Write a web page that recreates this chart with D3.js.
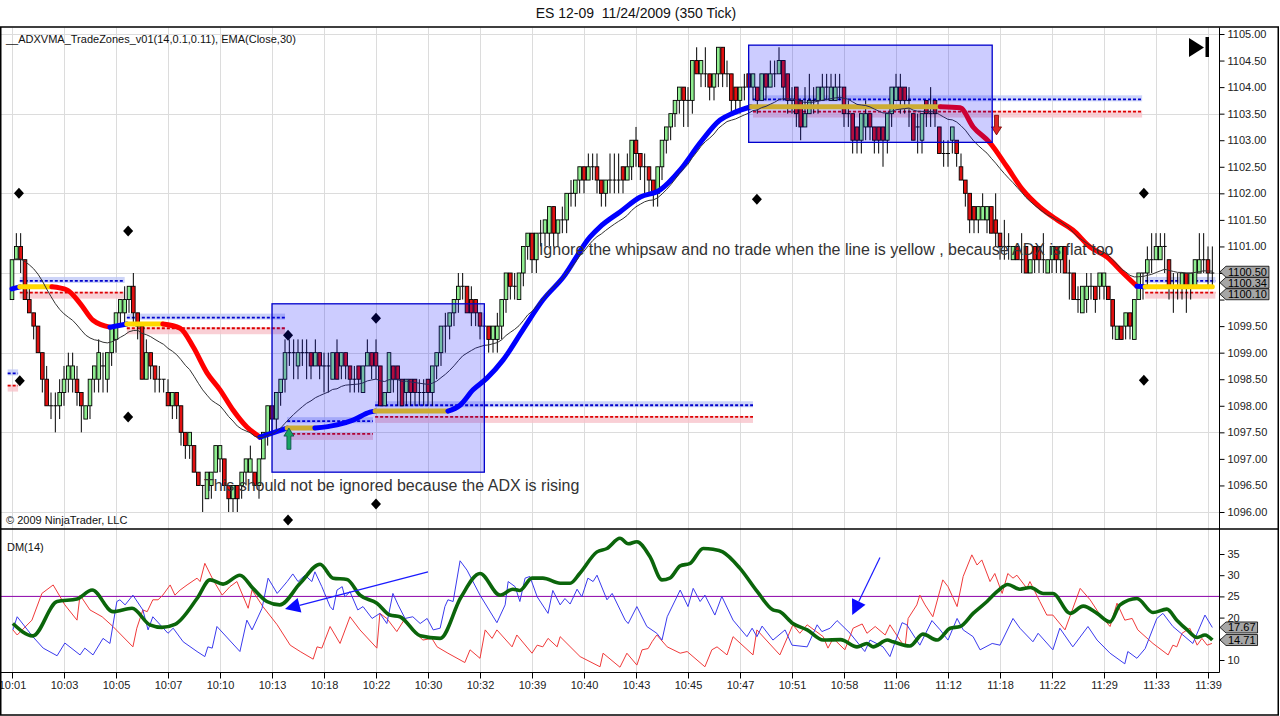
<!DOCTYPE html>
<html>
<head>
<meta charset="utf-8">
<title>ES 12-09 11/24/2009 (350 Tick)</title>
<script src="https://cdn.jsdelivr.net/npm/d3@7/dist/d3.min.js"></script>
<style>
  body { margin: 0; background: #fff; }
  svg { display: block; font-family: "Liberation Sans", Arial, sans-serif; }
  .tick text { font-size: 11px; fill: #222; }
  .tick line { stroke: #000; }
</style>
</head>
<body>
<svg id="chart" width="1280" height="716"></svg>
<script>
// 350 tick bars, prices stored in ticks above 1096.00 (one tick = 0.25)
const BASE = 1096
const TICK = 0.25

const opens = [
  16,19,20,19,16,15,14,12,10,8,8,8,
  9,10,10,10,9,7,8,10,10,11,10,12,
  13,15,15,16,17,15,14,10,12,11,10,10,
  9,8,9,8,6,5,5,3,2,1,2,3,
  4,4,2,1,2,2,3,3,3,2,4,6,
  8,7,9,10,12,12,11,12,12,12,11,12,
  11,11,10,12,11,12,11,10,11,9,11,12,
  12,11,8,9,11,11,10,9,10,10,9,9,
  10,9,11,12,14,14,15,16,17,17,16,16,
  15,14,14,13,13,14,16,18,17,16,18,20,
  21,19,21,21,21,23,21,22,22,24,24,25,
  26,25,26,26,25,24,25,25,25,26,25,26,
  28,27,26,26,25,24,26,28,29,30,31,32,
  31,31,34,33,33,33,32,33,35,33,33,32,
  31,32,33,32,32,31,33,32,33,33,34,33,
  31,32,31,29,30,31,31,31,32,31,31,32,
  32,30,30,29,28,29,30,29,29,29,28,30,
  31,32,32,31,30,29,28,31,30,31,29,27,
  27,28,28,26,25,24,23,22,22,22,23,22,
  21,20,20,19,20,19,20,18,20,20,19,18,
  19,20,19,20,18,18,16,15,16,17,17,17,
  17,17,16,13,14,14,15,13,16,18,18,19,
  19,19,20,19,17,17,17,18,17,17,18,19,
  19,18
]
const closes = [
  19,20,19,16,15,14,12,10,8,8,8,9,
  10,11,11,9,8,8,10,11,12,11,12,14,
  15,16,16,17,15,14,10,12,11,10,10,10,
  8,9,8,6,5,6,3,2,2,3,3,5,
  5,2,1,2,1,3,4,4,2,4,6,8,
  7,9,10,12,12,12,12,12,12,11,12,11,
  11,11,12,10,12,11,10,10,10,11,12,11,
  11,8,9,12,10,10,8,10,9,9,9,9,
  9,11,12,14,14,15,16,17,17,15,15,15,
  14,14,13,14,14,16,18,17,17,18,20,21,
  19,21,21,22,23,21,22,22,24,24,25,26,
  25,26,26,25,24,25,25,25,25,25,26,28,
  27,26,26,25,24,26,28,29,30,31,32,31,
  31,34,33,34,33,32,33,35,33,33,31,31,
  32,32,32,33,31,33,32,33,33,34,32,31,
  31,30,29,30,31,31,32,32,32,32,32,32,
  30,30,28,28,30,30,29,28,28,28,30,32,
  32,31,31,31,28,29,30,30,30,30,27,27,
  27,29,27,25,24,22,22,23,23,23,21,21,
  20,20,20,20,19,19,18,19,19,19,19,19,
  20,19,20,18,18,16,16,17,17,17,16,18,
  18,16,14,14,13,15,14,16,18,18,19,19,
  20,20,20,17,17,17,18,17,18,19,19,19,
  18,18
]
const highs = [
  19,21,21,19,17,15,14,12,11,9,9,10,
  11,12,12,11,9,8,10,11,13,12,12,14,
  15,16,17,17,18,15,14,13,12,11,11,10,
  10,9,9,8,6,6,5,3,2,3,3,5,
  5,4,2,2,2,3,4,5,3,4,6,8,
  8,9,10,13,13,13,13,13,13,12,13,12,
  12,12,12,13,12,12,11,11,11,11,13,12,
  13,11,9,12,11,11,10,10,10,10,10,10,
  10,11,12,14,15,15,16,18,18,17,17,16,
  15,15,14,14,15,16,18,18,18,18,20,21,
  21,21,22,22,23,23,22,23,24,25,25,26,
  26,27,27,27,25,25,27,27,27,26,27,28,
  29,27,27,26,25,26,28,29,30,31,32,32,
  32,34,35,34,35,33,33,35,35,34,33,32,
  32,33,34,33,32,33,33,34,34,35,34,33,
  32,32,31,32,33,32,32,33,33,33,33,33,
  32,31,30,29,30,31,30,29,29,29,30,32,
  33,33,32,32,30,30,30,31,32,31,29,28,
  28,29,28,27,25,24,23,23,24,23,23,24,
  21,22,21,20,20,21,20,19,20,20,21,19,
  20,20,20,20,19,18,17,17,18,18,17,18,
  18,17,16,14,14,15,15,16,18,18,20,21,
  21,21,21,19,18,18,18,18,18,19,21,21,
  20,20
]
const lows = [
  16,19,18,16,15,13,12,9,8,7,6,7,
  8,9,9,8,6,7,7,9,9,9,9,11,
  12,14,14,15,14,13,10,10,10,9,9,9,
  8,7,7,5,4,4,3,2,0,1,1,3,
  3,2,0,0,0,1,2,3,2,1,4,5,
  6,6,8,9,11,10,10,11,10,10,11,10,
  9,9,10,10,10,10,9,9,9,9,11,10,
  10,8,8,9,9,8,8,8,8,8,8,8,
  8,8,10,11,12,13,14,15,16,15,14,14,
  13,13,12,12,12,13,15,16,16,16,17,19,
  18,18,20,20,20,20,20,21,21,23,23,24,
  24,25,25,24,23,23,24,24,24,24,25,25,
  26,25,24,24,23,23,25,27,28,29,30,29,
  29,30,33,32,32,31,31,32,32,32,30,30,
  30,31,31,31,30,31,31,32,32,33,31,30,
  30,29,28,29,30,30,30,31,31,31,31,31,
  29,29,27,27,27,28,28,27,27,26,27,29,
  31,30,30,29,28,27,27,29,29,29,27,26,
  26,27,26,25,23,21,21,21,22,21,21,20,
  19,19,19,19,19,18,18,18,18,18,18,18,
  18,18,18,18,16,16,15,15,15,16,15,16,
  16,16,13,13,13,13,13,13,16,16,17,18,
  19,19,18,16,15,16,16,15,16,17,18,18,
  17,17
]

const timeLabels = ['10:01','10:03','10:05','10:07','10:10','10:13','10:18','10:22','10:30','10:32','10:39','10:40',
  '10:43','10:45','10:47','10:51','10:58','11:06','11:12','11:18','11:22','11:29','11:33','11:39']
const priceTicks = d3.range(1096, 1105.001, 0.5)
const priceGrid = [1096, 1097.5, 1099, 1100.5, 1102, 1103.5, 1105]
const dmTicks = [10, 15, 20, 25, 30, 35]

// ADXVMA line: bar position, price, and trend state of the following segment
const vmaBars = [0,1.8,9.2,12.7,15.7,18.7,22.6,26.5,34.8,38.8,41.8,45,48,51,54.2,57.2,63.5,69.9,75,78.7,
  82.6,83.8,100.6,103.4,106.4,109.6,113.3,117.9,122.5,127.2,133.4,135.7,140.3,145,149.5,154.2,158.8,163.4,166.4,170.5,
  214.2,218.8,221.8,225.7,229.6,233.3,237.2,241.2,244.8,248.8,252.7,256.4,259.6,261.5,277]
const vmaPrices = [1100.20,1100.24,1100.24,1100.18,1099.93,1099.61,1099.48,1099.54,1099.54,1099.46,
  1099.11,1098.62,1098.30,1097.92,1097.60,1097.41,1097.58,1097.58,1097.64,1097.73,
  1097.88,1097.90,1097.90,1098.01,1098.30,1098.52,1098.86,1099.43,1099.99,1100.42,
  1101.18,1101.37,1101.65,1101.93,1102.06,1102.44,1102.95,1103.38,1103.51,1103.63,
  1103.63,1103.61,1103.25,1102.95,1102.50,1102.06,1101.74,1101.50,1101.31,1100.99,
  1100.80,1100.50,1100.25,1100.24,1100.24]
const vmaStates = 'UFDDDDUFDDDDDDDUFUUUUFUUUUUUUUUUUUUUUUUFDDDDDDDDDDDDUF'

// trade zones
const zoneStart = [-1, 1.8, 26.5, 63.5, 83.8, 171, 261.5]
const zoneEnd   = [1.4, 26, 63, 83.3, 171, 260.8, 277.7]
const zoneUpper = [1098.61, 1100.35, 1099.66, 1097.71, 1098.01, 1103.77, 1100.35]
const zoneLower = [1098.38, 1100.13, 1099.46, 1097.47, 1097.79, 1103.54, 1100.13]

// drawn rectangles
const boxBars   = [[60, 109], [170, 226.2]]
const boxPrices = [[1099.92, 1096.75], [1104.79, 1102.96]]

const diamondBars   = [1.6, 1.8, 26.8, 26.8, 63.7, 63.7, 84, 84, 171.9, 261.2, 261.2]
const diamondPrices = [1102.0, 1098.47, 1101.29, 1097.79, 1099.33, 1095.85, 1099.65, 1096.15, 1101.89, 1102.0, 1098.48]

const longSignal  = {bar: 63.9, tip: 1097.58, tail: 1097.18}
const shortSignal = {bar: 227.2, tip: 1103.10, tail: 1103.47}

const notes = [
  {bar: 121.6, price: 1100.83, text: 'Ignore the whipsaw and no trade when the line is yellow , because ADX is flat too'},
  {bar: 44.3, price: 1096.39, text: 'This should not be ignored because the ADX is rising'},
]

// DM(14) panel, [bar, value]
const adx = [[0.2,18.6],[4.8,15.7],[10.4,23.8],[15,24.4],[18.5,26.5],[23.3,21.4],[27.7,22.2],[31.8,18.3],[34.6,17.7],
  [37.6,18.4],[42.7,24.5],[45.7,28.9],[48.7,27.9],[52.6,30],[55.6,26.9],[58.8,23.8],[61.8,23],[66.5,28.1],[71.1,32.6],
  [74.1,29.3],[77.3,29],[80.3,25.3],[84.2,23.4],[87.2,20.6],[89.5,20.2],[94.2,15.7],[98.8,15.1],[103.6,24.8],[108,30.4],
  [112.6,25.3],[115.6,26.7],[117.2,26.4],[120,29.3],[122.5,29.3],[126.5,28.1],[128.8,28.1],[131,30.4],[135,35.5],
  [137.3,36.3],[140.3,38.7],[142.2,37.4],[144.2,37.9],[147.2,34.4],[150,28.9],[151.8,29.3],[154.2,32.2],[156.5,32.8],
  [159.5,36.3],[161.8,36.1],[164,35.5],[168,31.6],[172,26.1],[175.6,21.8],[177.2,21.4],[180.2,18.6],[183.5,17.1],
  [187.2,14.7],[191.2,14.8],[195,13.1],[197.3,13.9],[198.7,13.1],[202,14.7],[203.3,14.3],[207.2,13.3],[210.2,16.1],
  [213.5,14.7],[216.5,17.5],[218.8,17.9],[221.8,21],[225,23.8],[227.3,26.1],[229.8,27.8],[232.6,26.7],[235,27.1],
  [238,25.7],[240.2,25.7],[244.2,21],[247.2,22.7],[250.4,21],[253.4,19],[255.7,23],[259.6,24.5],[263.3,21.2],
  [266.5,22],[268.8,19.4],[271.2,17.1],[273.5,15.3],[275.3,15.9],[277,14.71]]
const plusDI = [[0.2,17.1],[1.2,20.2],[4.8,15.5],[7.2,12.8],[10.4,11],[12.2,14],[15.7,11.2],[16.8,12.8],[18.7,11.2],
  [21,15.1],[22.6,13.9],[24.2,23.8],[24.9,24.2],[26.1,23],[27.9,25.3],[30.2,21.8],[31.4,17.1],[32.5,20.2],[36,16.3],
  [37.2,17.5],[39.5,14.3],[42.7,12],[44.5,10.8],[45.2,13.1],[46.2,12.8],[47.3,17.9],[52.6,12],[54.2,19.4],[55.4,17.1],
  [57.7,22.2],[59.1,29.3],[61.2,25.7],[63.5,28.5],[64.8,30.3],[66,28.5],[67.6,30],[69.2,28.5],[69.9,30.8],[71.5,27.3],
  [73.4,22.6],[74.1,21.8],[75,26.5],[76.2,27.3],[76.8,24.9],[78,26.1],[79.8,21.8],[81,22.6],[83.1,19.8],[84.9,21],
  [86.5,18.6],[87.9,25.7],[89.1,23],[90.7,19.8],[92.5,20.2],[94.2,18.6],[95.8,19.8],[97.2,17.1],[98.8,17.5],[99.9,22.6],
  [100.6,24.2],[101.8,23.8],[103.4,33.4],[105,31.2],[108,25.3],[111.9,18.8],[113.8,23],[114.5,28.5],[116.1,27.3],
  [117.2,23.8],[118.4,29.3],[119.5,29.7],[121.2,24.9],[123.7,21],[124.8,26.4],[126.5,23],[127.6,24.5],[128.8,23.2],
  [130.4,26.7],[131.5,24.9],[132.9,29.3],[134.1,28.5],[135,30],[137.3,24.2],[138.5,25.7],[141.5,19.4],[142.2,18.6],
  [144.2,22.6],[146.5,17.9],[148.8,16.3],[150,14.7],[151.2,20.2],[154.2,26.5],[156,22.6],[157.2,26.9],[158.8,23.8],
  [159.9,25.3],[162.2,20.6],[163.8,25],[166.4,19.4],[169.6,15.5],[170.8,17.5],[171.9,15.5],[173.1,18],[175.6,14.7],
  [178.4,17.1],[180,13.5],[183.5,13.1],[185.8,18.3],[186.9,16.7],[188.8,17.5],[190.4,19.3],[193.4,16.3],[196.8,12],
  [198,14.7],[201,13.1],[202.6,10.8],[205.4,18.8],[206.5,18.3],[209.5,13.5],[212.3,19.3],[214.2,17.1],[216,14.7],
  [218.1,19.8],[219.5,17.1],[221.8,15.5],[223.4,12.4],[226.2,13.9],[228,13.5],[231,19.8],[232.6,17.5],[235.6,14.3],
  [236.8,16.3],[240.2,12.4],[241.8,17.5],[244.8,13.1],[248.3,17.9],[250.4,14.7],[253.4,11.6],[256.8,9.1],[257.5,12],
  [259.6,10.4],[261.5,12.7],[264.2,19.8],[265.6,21],[267.9,17.9],[270.2,15.9],[272.5,13.9],[275.3,20.6],[277,17.67]]
const minusDI = [[0.2,17.1],[1.2,15.9],[4.6,19.4],[6.9,25.7],[9.5,27.7],[12.2,23],[15,19.4],[15.7,25.3],[18,21.8],
  [20.8,20.2],[23.3,17.9],[27.9,13.1],[28.8,17.5],[30.2,21.8],[31.2,21.4],[32.5,24.2],[33.7,24.2],[34.8,25.3],[36.5,27.7],
  [37.6,25.3],[38.8,26.5],[40.4,27.7],[42.7,29.3],[43.4,28.5],[44.5,32.8],[46.4,28.9],[48.5,25.3],[50.3,27.3],[51.9,28.5],
  [54.5,22.2],[55.4,26.5],[57.9,22.6],[61.2,18.3],[64.2,13.5],[66.5,12],[69.5,10.2],[70.4,13.1],[71.5,12.8],[73.4,17.9],
  [75.7,13.9],[78,20.2],[80.3,17.1],[84.2,12.8],[84.9,21],[86.5,19.8],[88.8,16.7],[90.7,19.8],[92.5,17.1],[94.8,14.7],
  [96.9,15.1],[98.1,13.1],[100.6,11.6],[104.5,9.4],[105.7,12.4],[108,10.4],[109.2,17.1],[110.8,15.1],[111.9,17.1],
  [115.4,13.1],[116.5,15.9],[120,11.6],[121.2,13.5],[122.5,13.1],[123.7,15.1],[125.8,13.1],[126.5,15.5],[131.1,10.8],
  [135.7,8.4],[136.4,11.6],[140.3,8.3],[141.9,11.6],[144.2,8.8],[145.4,12.4],[146.8,12.7],[147.7,14.3],[148.8,15.9],
  [151.2,13.1],[154.2,11.6],[155.8,12],[159.9,8.4],[161.5,12.4],[162.7,13.1],[165,11.2],[166.4,15.5],[171,11.2],
  [171.9,17.1],[177.2,11.2],[180.2,18.3],[181.8,16.3],[183.5,18.3],[187.2,15.5],[188.3,12.8],[189.5,15.1],[192.2,12.4],
  [194.1,17.5],[196.2,18.5],[197.3,16.3],[199.2,17.9],[201.5,15.9],[202.6,18.3],[204.9,14.7],[206.1,13.1],[206.8,19.8],
  [208.8,23],[209.5,25.3],[210.7,23],[212.5,20.2],[214.8,28.9],[216,27.3],[218.1,22.6],[219.5,29.7],[221.5,34.8],
  [222.7,32.4],[223.8,33.6],[225.7,28.5],[226.8,30.4],[228.5,25.7],[229.8,30.4],[231,29.3],[231.9,30],[234.2,26.9],
  [234.9,28.5],[237.2,23.8],[238.8,20.6],[240.2,20.6],[243,17.1],[246.5,26.9],[248.8,24.2],[251.1,20.6],[253.4,17.9],
  [255,23.4],[256.8,19.4],[258.5,19.8],[259.8,17.1],[263.3,13.9],[266.8,11.2],[267.9,13.5],[268.8,13.1],[270,16.3],
  [271.8,17.5],[273.5,13.5],[274.6,15.1],[275.8,13.5],[276.9,13.9]]
const dmLevel = 25
const dmArrowFrom = [[96, 30.8], [200.3, 34.2]]
const dmArrowTo   = [[63, 22.0], [193.9, 20.6]]

const priceTags = [1100.34, 1100.50, 1100.10]
const dmTags = [17.67, 14.71]

// ---------------------------------------------------------------
const svg = d3.select('#chart')
const L = 1, R = 1219, PT = 27.5, PB = 529, DB = 672

const x = d3.scaleLinear().domain([0, 277]).range([12, 12 + 277 * 52 / 12])
const yP = d3.scaleLinear().domain([1096, 1105]).range([512, 34])
const yD = d3.scaleLinear().domain([10, 35]).range([660, 554])
const px = t => BASE + t * TICK
const crisp = v => Math.round(v) + 0.5

svg.append('rect').attr('width', 1280).attr('height', 716).attr('fill', '#fff')

svg.append('text')
  .attr('x', 636).attr('y', 18).attr('text-anchor', 'middle')
  .style('font-size', '14px').style('white-space', 'pre').attr('fill', '#111')
  .text('ES 12-09  11/24/2009 (350 Tick)')

const defs = svg.append('defs')
defs.append('clipPath').attr('id', 'clipP').append('rect')
  .attr('x', L).attr('y', PT).attr('width', R - L).attr('height', PB - PT)
defs.append('clipPath').attr('id', 'clipD').append('rect')
  .attr('x', L).attr('y', PB).attr('width', R - L).attr('height', DB - PB)

// grid
const grid = svg.append('g').attr('stroke', '#dcdcdc').attr('stroke-width', 1)
d3.range(0, 277, 12).forEach(i => {
  grid.append('line').attr('x1', crisp(x(i))).attr('x2', crisp(x(i))).attr('y1', PT).attr('y2', PB)
  grid.append('line').attr('x1', crisp(x(i))).attr('x2', crisp(x(i))).attr('y1', PB).attr('y2', DB)
})
priceGrid.forEach(p => {
  grid.append('line').attr('x1', L).attr('x2', R).attr('y1', crisp(yP(p))).attr('y2', crisp(yP(p)))
})

// ---------------- price panel
const pg = svg.append('g').attr('clip-path', 'url(#clipP)')

// trade zones
const zg = pg.append('g')
zoneStart.forEach((s, k) => {
  const x0 = x(s), x1 = x(zoneEnd[k])
  const yu = yP(zoneUpper[k]), yl = yP(zoneLower[k])
  zg.append('rect').attr('x', x0).attr('width', x1 - x0).attr('y', yu - 4).attr('height', 6)
    .attr('fill', '#bcc6f6').attr('opacity', 0.75)
  zg.append('rect').attr('x', x0).attr('width', x1 - x0).attr('y', yl - 1).attr('height', 7)
    .attr('fill', '#f7c3cb').attr('opacity', 0.8)
  zg.append('line').attr('x1', x0).attr('x2', x1).attr('y1', yu).attr('y2', yu)
    .attr('stroke', '#0000cc').attr('stroke-width', 1.8).attr('stroke-dasharray', '3,2')
  zg.append('line').attr('x1', x0).attr('x2', x1).attr('y1', yl).attr('y2', yl)
    .attr('stroke', '#dd0000').attr('stroke-width', 1.8).attr('stroke-dasharray', '3,2')
})

// candles
const bars = opens.map((o, i) => ({i, o: px(o), c: px(closes[i]), h: px(highs[i]), l: px(lows[i])}))
const cg = pg.append('g')
cg.selectAll('line.wick').data(bars).join('line').attr('class', 'wick')
  .attr('x1', d => x(d.i)).attr('x2', d => x(d.i))
  .attr('y1', d => yP(d.h)).attr('y2', d => yP(d.l))
  .attr('stroke', '#000').attr('stroke-width', 1)
cg.selectAll('rect.body').data(bars.filter(d => d.o !== d.c)).join('rect').attr('class', 'body')
  .attr('x', d => x(d.i) - 1.8).attr('width', 3.6)
  .attr('y', d => yP(Math.max(d.o, d.c)))
  .attr('height', d => Math.abs(yP(d.o) - yP(d.c)))
  .attr('fill', d => d.c > d.o ? '#90ee90' : '#e01010')
  .attr('stroke', '#000').attr('stroke-width', 0.9)
cg.selectAll('line.doji').data(bars.filter(d => d.o === d.c)).join('line').attr('class', 'doji')
  .attr('x1', d => x(d.i) - 2).attr('x2', d => x(d.i) + 2)
  .attr('y1', d => yP(d.o)).attr('y2', d => yP(d.o))
  .attr('stroke', '#000').attr('stroke-width', 1)

// ADXVMA, drawn in runs of one colour
const stateColor = {U: '#0000ff', D: '#ff0000', F: '#ffd800'}
const vmaLine = d3.line().x(d => x(d[0])).y(d => yP(d[1])).curve(d3.curveMonotoneX)
let runStart = 0
for (let k = 1; k <= vmaStates.length; k++) {
  if (k === vmaStates.length || vmaStates[k] !== vmaStates[runStart]) {
    const pts = d3.range(runStart, k + 1).map(j => [vmaBars[j], vmaPrices[j]])
    pg.append('path').datum(pts).attr('d', vmaLine)
      .attr('fill', 'none').attr('stroke', stateColor[vmaStates[runStart]])
      .attr('stroke-width', 5).attr('stroke-linecap', 'round')
    runStart = k
  }
}

// EMA(Close,30)
const ema = []
closes.forEach((t, i) => ema.push(i ? ema[i - 1] + (px(t) - ema[i - 1]) * 2 / 31 : px(t)))
pg.append('path').datum(ema)
  .attr('d', d3.line().x((d, i) => x(i)).y(d => yP(d)))
  .attr('fill', 'none').attr('stroke', '#333').attr('stroke-width', 1)

// swing diamonds
pg.selectAll('path.diamond').data(diamondBars).join('path').attr('class', 'diamond')
  .attr('d', (b, k) => {
    const cx = x(b), cy = yP(diamondPrices[k])
    return `M${cx},${cy - 5.5} L${cx + 5},${cy} L${cx},${cy + 5.5} L${cx - 5},${cy} Z`
  })
  .attr('fill', '#000')

// entry arrows
const arrowPath = (cx, tipY, tailY) => {
  const dir = Math.sign(tailY - tipY)
  const hy = tipY + dir * 8
  return `M${cx},${tipY} L${cx + 5},${hy} L${cx + 2},${hy} L${cx + 2},${tailY} L${cx - 2},${tailY} L${cx - 2},${hy} L${cx - 5},${hy} Z`
}
pg.append('path').attr('d', arrowPath(x(longSignal.bar), yP(longSignal.tip), yP(longSignal.tail)))
  .attr('fill', '#1fcc3c').attr('stroke', '#0a5a14').attr('stroke-width', 0.8)
pg.append('path').attr('d', arrowPath(x(shortSignal.bar), yP(shortSignal.tip), yP(shortSignal.tail)))
  .attr('fill', '#e02828').attr('stroke', '#700').attr('stroke-width', 0.8)

// notes
notes.forEach(n => {
  pg.append('text').attr('x', x(n.bar)).attr('y', yP(n.price))
    .style('font-size', '16px').attr('fill', '#333').text(n.text)
})

// highlighted areas
boxBars.forEach((b, k) => {
  const x0 = x(b[0]), x1 = x(b[1])
  const y0 = yP(boxPrices[k][0]), y1 = yP(boxPrices[k][1])
  pg.append('rect').attr('x', x0).attr('y', y0).attr('width', x1 - x0).attr('height', y1 - y0)
    .attr('fill', '#0000ff').attr('fill-opacity', 0.2)
    .attr('stroke', '#0000cc').attr('stroke-width', 1.3)
})

pg.append('text').attr('x', 6).attr('y', 43).style('font-size', '11px').attr('fill', '#111')
  .text('__ADXVMA_TradeZones_v01(14,0.1,0.11), EMA(Close,30)')
pg.append('text').attr('x', 6).attr('y', 524).style('font-size', '11px').attr('fill', '#111')
  .text('\u00a9 2009 NinjaTrader, LLC')

// go-to-end icon
svg.append('path').attr('d', 'M1189,38 L1189,57 L1204,47.5 Z').attr('fill', '#000')
svg.append('rect').attr('x', 1205.5).attr('y', 37).attr('width', 3.5).attr('height', 20).attr('fill', '#000')

// ---------------- DM panel
const dg = svg.append('g').attr('clip-path', 'url(#clipD)')
dg.append('line').attr('x1', L).attr('x2', R).attr('y1', yD(dmLevel)).attr('y2', yD(dmLevel))
  .attr('stroke', '#8a00a8').attr('stroke-width', 1)
const dmLine = d3.line().x(d => x(d[0])).y(d => yD(d[1]))
dg.append('path').datum(minusDI).attr('d', dmLine)
  .attr('fill', 'none').attr('stroke', '#f03a3a').attr('stroke-width', 1)
dg.append('path').datum(plusDI).attr('d', dmLine)
  .attr('fill', 'none').attr('stroke', '#3a3aee').attr('stroke-width', 1)
dg.append('path').datum(adx).attr('d', dmLine.curve(d3.curveMonotoneX))
  .attr('fill', 'none').attr('stroke', '#0b650b').attr('stroke-width', 3.6).attr('stroke-linejoin', 'round')

dmArrowFrom.forEach((f, k) => {
  const t = dmArrowTo[k]
  const fx = x(f[0]), fy = yD(f[1]), tx = x(t[0]), ty = yD(t[1])
  const len = Math.hypot(tx - fx, ty - fy)
  const ux = (tx - fx) / len, uy = (ty - fy) / len
  const bx = tx - ux * 15, by = ty - uy * 15
  dg.append('line').attr('x1', fx).attr('y1', fy).attr('x2', bx).attr('y2', by)
    .attr('stroke', '#1a1aff').attr('stroke-width', 1.2)
  dg.append('path')
    .attr('d', `M${tx},${ty} L${bx - uy * 7.5},${by + ux * 7.5} L${bx + uy * 7.5},${by - ux * 7.5} Z`)
    .attr('fill', '#0a0aff')
})

svg.append('text').attr('x', 7).attr('y', 551).style('font-size', '11px').attr('fill', '#111').text('DM(14)')

// ---------------- axes
const ax = svg.append('g').attr('transform', `translate(${R + 0.5},0)`)
  .call(d3.axisRight(yP).tickValues(priceTicks).tickFormat(d3.format('.2f')).tickSize(5).tickPadding(3))
ax.select('.domain').remove()
const dax = svg.append('g').attr('transform', `translate(${R + 0.5},0)`)
  .call(d3.axisRight(yD).tickValues(dmTicks).tickSize(5).tickPadding(3))
dax.select('.domain').remove()
const xax = svg.append('g').attr('transform', `translate(0,${DB + 0.5})`)
  .call(d3.axisBottom(x).tickValues(d3.range(0, 277, 12)).tickFormat((d, i) => timeLabels[i]).tickSize(6).tickPadding(3))
xax.select('.domain').remove()

// frame
const frame = svg.append('g').attr('stroke', '#000').attr('fill', 'none')
frame.append('rect').attr('x', 0.75).attr('y', 27).attr('width', 1277.5).attr('height', 688).attr('stroke-width', 1.5)
frame.append('line').attr('x1', 0).attr('x2', 1279).attr('y1', PB).attr('y2', PB).attr('stroke-width', 1.5)
frame.append('line').attr('x1', R + 0.5).attr('x2', R + 0.5).attr('y1', PT).attr('y2', DB + 0.5)
frame.append('line').attr('x1', 0).attr('x2', R + 0.5).attr('y1', DB + 0.5).attr('y2', DB + 0.5)

// value tags on the axes; tick labels sitting under a tag are hidden, as in the platform
function placeTags(values, scale) {
  const items = values.map(v => ({v, y: scale(v)})).sort((a, b) => a.y - b.y)
  for (let it = 0; it < 10; it++) {
    for (let i = 1; i < items.length; i++) {
      const gap = items[i].y - items[i - 1].y
      if (gap < 11) { const d = (11 - gap) / 2; items[i - 1].y -= d; items[i].y += d }
    }
  }
  return values.map(v => items.find(o => o.v === v))
}
function drawTags(values, scale, fmt, axisGroup) {
  const placed = placeTags(values, scale)
  axisGroup.selectAll('.tick').each(function (d) {
    const ty = scale(d)
    if (placed.some(o => Math.abs(o.y - ty) < 8)) d3.select(this).select('text').remove()
  })
  const tg = svg.append('g')
  placed.forEach(o => {
    const g = tg.append('g')
    const path = g.append('path')
    const txt = g.append('text').attr('x', R + 9).attr('y', o.y).attr('dy', '0.36em')
      .style('font-size', '11px').attr('fill', '#000').text(fmt(o.v))
    const w = txt.node().getComputedTextLength()
    path.attr('d', `M${R + 1},${o.y} L${R + 7},${o.y - 5.5} H${R + 11 + w} V${o.y + 5.5} H${R + 7} Z`)
      .attr('fill', '#a6a6a6').attr('stroke', '#000').attr('stroke-width', 0.8)
  })
}
drawTags(priceTags, yP, d3.format('.2f'), ax)
drawTags(dmTags, yD, d3.format('.2f'), dax)
</script>
</body>
</html>
